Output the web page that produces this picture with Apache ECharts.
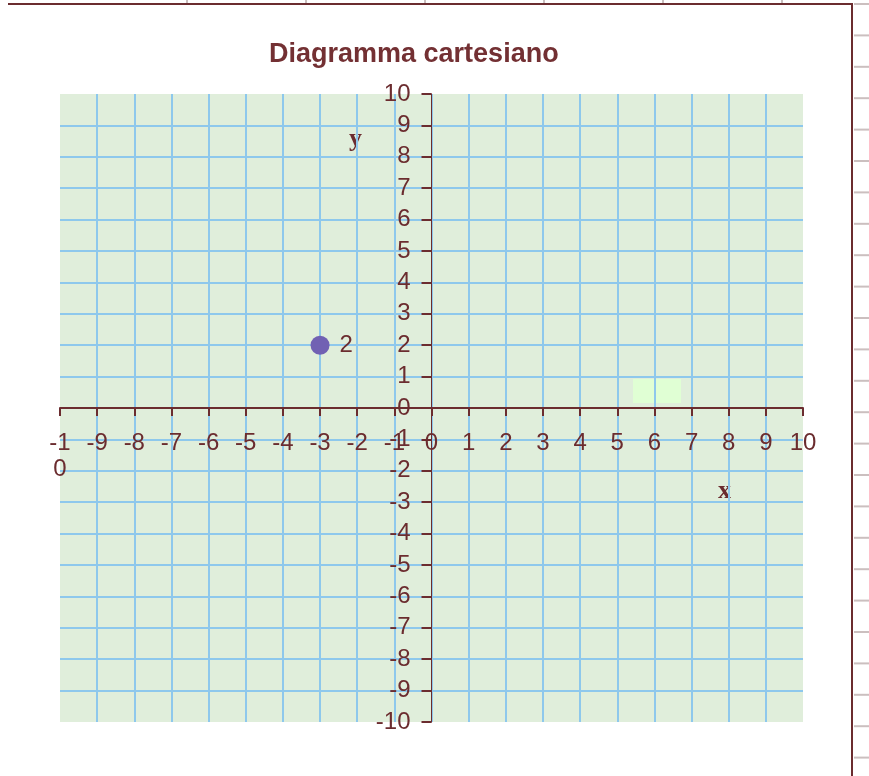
<!DOCTYPE html>
<html>
<head>
<meta charset="utf-8">
<script src="https://cdn.jsdelivr.net/npm/echarts@6/dist/echarts.min.js"></script>
<style>
html,body{margin:0;padding:0;background:#fff;}
#chart{width:869px;height:776px;}
</style>
</head>
<body>
<div id="chart"></div>
<script>
// axis range
var xMin = -10, xMax = 10;
var yMin = -10, yMax = 10;
// plotted points and their labels
var pointsX = [-3];
var pointsY = [2];
var pointLabels = ["2"];

var ink = "#6b2c2f";
var labelFont = "Liberation Sans, Arial, sans-serif";

var gridLeft = 60, gridTop = 94, gridW = 743, gridH = 628;

var chart = echarts.init(document.getElementById("chart"));

// frame decoration of the spreadsheet around the chart
var deco = [
    {type: "line", shape: {x1: 8, y1: 4, x2: 853, y2: 4}, style: {stroke: ink, lineWidth: 2}},
    {type: "line", shape: {x1: 852, y1: 4, x2: 852, y2: 776}, style: {stroke: ink, lineWidth: 2}},
    {type: "rect", shape: {x: 633, y: 379, width: 48, height: 24}, style: {fill: "#e0ffd4"}},
    {type: "text", left: 349, top: 126, style: {text: "y", font: "bold 26px Liberation Serif, serif", fill: ink}},
    {type: "text", left: 718, top: 478, style: {text: "x", font: "bold 26px Liberation Serif, serif", fill: ink}}
];
[187, 306, 425, 544, 663, 782].forEach(function (x) {
    deco.push({type: "line", shape: {x1: x, y1: 0, x2: x, y2: 3}, style: {stroke: "#c9bebe", lineWidth: 2}});
});
for (var k = 0; k < 25; k++) {
    var yy = 4 + k * 31.4;
    deco.push({type: "line", shape: {x1: 854, y1: yy, x2: 869, y2: yy}, style: {stroke: "#cbbfbf", lineWidth: 2}});
}

chart.setOption({
    animation: false,
    title: {
        text: "Diagramma cartesiano",
        left: 264,
        top: 36,
        textStyle: {color: "#733033", fontSize: 27, fontWeight: "bold", fontFamily: labelFont}
    },
    grid: {
        left: gridLeft,
        top: gridTop,
        width: gridW,
        height: gridH,
        outerBoundsMode: "none",
        containLabel: false,
        show: true,
        backgroundColor: "#e0eedb",
        borderWidth: 0
    },
    xAxis: {
        type: "value",
        min: xMin,
        max: xMax,
        interval: 1,
        position: "bottom",
        offset: -gridH / 2,
        axisLine: {onZero: false, lineStyle: {color: ink, width: 2}},
        axisTick: {show: true, length: 8, lineStyle: {color: ink, width: 2}},
        axisLabel: {
            color: ink,
            fontSize: 24,
            fontFamily: labelFont,
            margin: 22,
            lineHeight: 26,
            formatter: function (v) { return v === -10 ? "-1\n0" : String(v); }
        },
        splitLine: {show: true, showMinLine: false, showMaxLine: false, lineStyle: {color: "#8ec8ec", width: 2}}
    },
    yAxis: {
        type: "value",
        min: yMin,
        max: yMax,
        interval: 1,
        position: "left",
        offset: -gridW / 2,
        axisLine: {onZero: false, lineStyle: {color: ink, width: 1}},
        axisTick: {show: true, length: 10, lineStyle: {color: ink, width: 2}},
        axisLabel: {color: ink, fontSize: 24, fontFamily: labelFont, margin: 21},
        splitLine: {show: true, showMinLine: false, showMaxLine: false, lineStyle: {color: "#8ec8ec", width: 2}}
    },
    series: [{
        type: "scatter",
        data: pointsX.map(function (x, i) { return [x, pointsY[i], pointLabels[i]]; }),
        symbolSize: 19,
        itemStyle: {color: "#7161b3", opacity: 1},
        label: {
            show: true,
            position: "right",
            distance: 10,
            color: ink,
            fontSize: 24,
            fontFamily: labelFont,
            formatter: function (p) { return p.data[2]; }
        }
    }],
    graphic: deco
});
</script>
</body>
</html>
